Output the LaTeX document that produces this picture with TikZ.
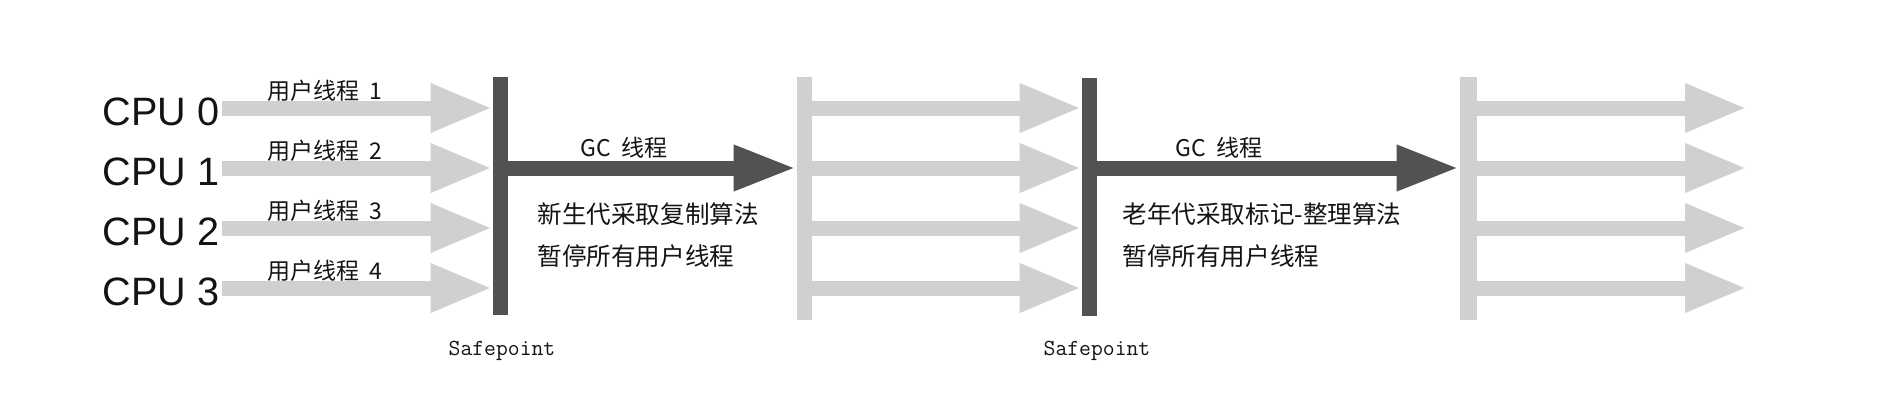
\documentclass[tikz,border=0pt]{standalone}
\usepackage{fontspec}
\setmainfont{Liberation Sans}
\newfontfamily\cjkfont{Noto Sans CJK SC}
\usepackage{xcolor}
\usetikzlibrary{arrows.meta,positioning}

\definecolor{spdark}{RGB}{82,82,82}
\definecolor{runlight}{RGB}{208,208,208}
\definecolor{labelgray}{RGB}{20,20,20}

\tikzset{
  runarrow/.style={draw=runlight,line width=7.5pt,-{Triangle[length=31pt,width=22.5pt]}},
  gcarrow/.style={draw=spdark,line width=7.5pt,-{Triangle[length=31.5pt,width=21pt]}},
  spbar/.style={fill=spdark,inner sep=0pt,minimum width=7.5pt,minimum height=119pt},
  runbar/.style={fill=runlight,inner sep=0pt,minimum width=7.5pt,minimum height=121.5pt},
  cpulabel/.style={inner sep=0pt,text=labelgray,font=\fontsize{19.8}{20}\selectfont},
  thrlabel/.style={inner sep=0pt,text=labelgray,font=\cjkfont\fontsize{11.5}{12}\selectfont},
  desclabel/.style={inner sep=0pt,text=labelgray,font=\cjkfont\fontsize{12.3}{14}\selectfont},
  splabel/.style={inner sep=0pt,text=labelgray,font=\ttfamily\fontsize{11.5}{12}\selectfont},
}

\begin{document}
\begin{tikzpicture}[x=0.5pt,y=-0.5pt]
  \useasboundingbox (0,0) rectangle (1886,412);
  \fill[white] (0,0) rectangle (1886,412);

  %Shape: safepoint bars and running bars
  \node[spbar]  (sp1)  at (500.5,196) {};
  \node[runbar] (run2) at (804.5,198.5) {};
  \node[spbar]  (sp2)  at (1089.5,197) {};
  \node[runbar,minimum width=8.5pt] (run3) at (1468.5,198.5) {};

  %Rows: one per CPU
  \foreach \i/\y/\n in {0/108/1,1/168/2,2/228/3,3/288/4}{
    \coordinate (row\i) at (222,\y);
    \coordinate (end\i) at (1747,\y);
    % Text Node
    \node[cpulabel,anchor=base east] (cpu\i) at (220,\y+17) {CPU \i};
    % Text Node
    \node[thrlabel,anchor=base west] (thr\n) at (267,\y-9) {用户线程\ \ \n};
    %Straight Lines
    \draw[runarrow] (row\i) -- (row\i -| sp1.west);
    \draw[runarrow] (run2.east |- row\i) -- (sp2.west |- row\i);
    \draw[runarrow] (run3.east |- row\i) -- (end\i);
  }

  %Straight Lines: GC threads
  \draw[gcarrow] (sp1.east |- row1) -- (run2.west |- row1);
  \draw[gcarrow] (sp2.east |- row1) -- (run3.west |- row1);

  % Text Node
  \node[thrlabel,anchor=base west] (gc1) at (580,156) {GC\ \ 线程};
  % Text Node
  \node[thrlabel,anchor=base west] (gc2) at (1175,156) {GC\ \ 线程};
  % Text Node
  \node[desclabel,anchor=base west] (young) at (537,223) {新生代采取复制算法};
  % Text Node
  \node[desclabel,anchor=base west] (pause1) at (537,265) {暂停所有用户线程};
  % Text Node
  \node[desclabel,anchor=base west] (old) at (1122,223) {老年代采取标记-整理算法};
  % Text Node
  \node[desclabel,anchor=base west] (pause2) at (1122,265) {暂停所有用户线程};
  % Text Node
  \node[splabel,anchor=base] (safe1) at (502,355) {Safepoint};
  % Text Node
  \node[splabel,anchor=base] (safe2) at (1097,355) {Safepoint};
\end{tikzpicture}
\end{document}
